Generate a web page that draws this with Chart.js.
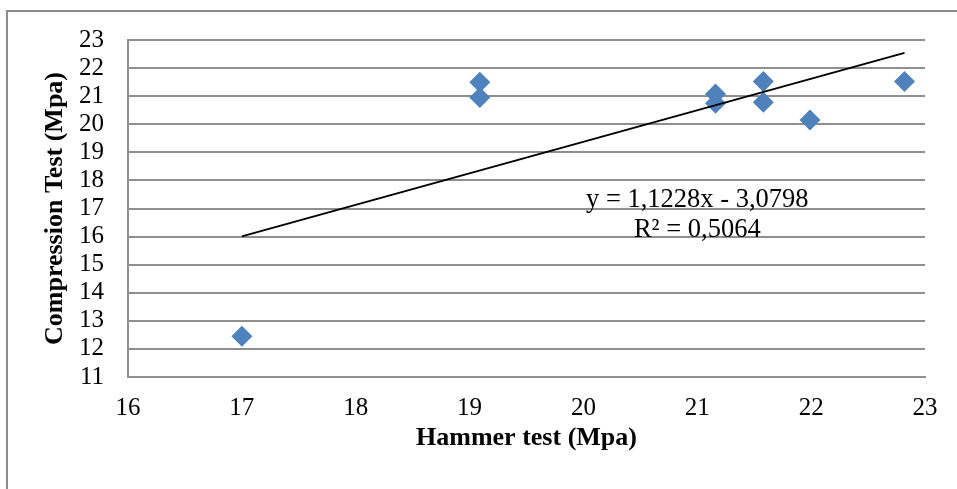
<!DOCTYPE html>
<html>
<head>
<meta charset="utf-8">
<script src="https://cdn.jsdelivr.net/npm/chart.js@4/dist/chart.umd.min.js"></script>
<style>
  html, body { margin: 0; padding: 0; background: #fff; }
  #wrap { width: 957px; height: 489px; }
</style>
</head>
<body>
<div id="wrap"><canvas id="hammerChart" width="957" height="489"></canvas></div>
<script>
// measurements: rebound hammer vs. compression test (MPa)
const hammer = [17, 19.09, 19.09, 21.16, 21.16, 21.58, 21.58, 21.99, 22.82];
const compression = [12.45, 21.5, 20.95, 21.08, 20.75, 21.52, 20.78, 20.15, 21.52];

// linear trendline as reported
const slope = 1.1228;
const intercept = -3.0798;
const rSquared = 0.5064;
const eqLines = ['y = 1,1228x - 3,0798', 'R\u00B2 = 0,5064'];
const eqAt = [21.0, 17.05];

const xMin = Math.min(...hammer);
const xMax = Math.max(...hammer);
const trend = [xMin, xMax].map(x => ({ x: x, y: slope * x + intercept }));

const points = hammer.map((x, i) => ({ x: x, y: compression[i] }));

const gridColor = '#8f8f8f';
const serif = "'Liberation Serif', 'Times New Roman', serif";

// outer chart frame + equation label
const extras = {
    id: 'extras',
    beforeDraw(chart) {
        const ctx = chart.ctx;
        ctx.save();
        ctx.strokeStyle = '#8c8c8c';
        ctx.lineWidth = 2;
        ctx.strokeRect(7, 11, 1000, 600);
        ctx.restore();
    },
    afterDatasetsDraw(chart) {
        const ctx = chart.ctx;
        const px = chart.scales.x.getPixelForValue(eqAt[0]);
        const py = chart.scales.y.getPixelForValue(eqAt[1]);
        ctx.save();
        ctx.fillStyle = '#000';
        ctx.font = "26.5px " + serif;
        ctx.textAlign = 'center';
        ctx.textBaseline = 'alphabetic';
        eqLines.forEach((t, i) => ctx.fillText(t, px, py + i * 30));
        ctx.restore();
    }
};

const ctx = document.getElementById('hammerChart').getContext('2d');

let chart = new Chart(ctx, {
    type: 'scatter',
    data: {
        datasets: [
            {
                label: 'Linear',
                data: trend,
                showLine: true,
                borderColor: '#000',
                borderWidth: 2,
                pointRadius: 0,
                order: 0
            },
            {
                label: 'Compression',
                data: points,
                pointStyle: 'rectRot',
                pointRadius: 10.5,
                backgroundColor: '#4f81bd',
                borderColor: '#4f81bd',
                borderWidth: 0,
                order: 1
            }
        ]
    },
    options: {
        responsive: false,
        animation: false,
        layout: { padding: { top: 40, right: 32, left: 0, bottom: 0 } },
        plugins: {
            legend: { display: false },
            tooltip: { enabled: false }
        },
        scales: {
            x: {
                type: 'linear',
                min: 16,
                max: 23,
                afterFit: s => { s.height = 112; },
                grid: { display: false, drawTicks: false },
                border: { display: true, color: gridColor, width: 2 },
                ticks: {
                    stepSize: 1,
                    autoSkip: false,
                    padding: 16,
                    color: '#000',
                    font: { family: serif, size: 25 }
                },
                title: {
                    display: true,
                    text: 'Hammer test (Mpa)',
                    color: '#000',
                    padding: { top: 0, bottom: 35 },
                    font: { family: serif, size: 26, weight: 'bold' }
                }
            },
            y: {
                min: 11,
                max: 23,
                afterFit: s => { s.width = 128; },
                grid: { color: gridColor, lineWidth: 2, drawTicks: false },
                border: { display: true, color: gridColor, width: 2 },
                ticks: {
                    stepSize: 1,
                    autoSkip: false,
                    padding: 24,
                    color: '#000',
                    font: { family: serif, size: 25 }
                },
                title: {
                    display: true,
                    text: 'Compression Test (Mpa)',
                    color: '#000',
                    padding: { top: 40, bottom: 0 },
                    font: { family: serif, size: 26, weight: 'bold' }
                }
            }
        }
    },
    plugins: [extras]
});
</script>
</body>
</html>
